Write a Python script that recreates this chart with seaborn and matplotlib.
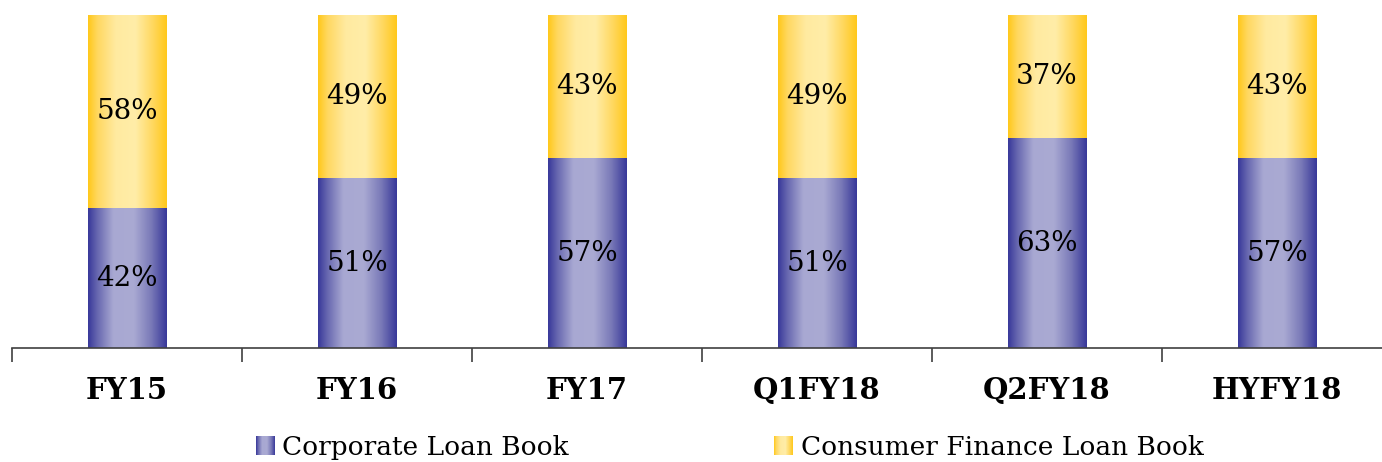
import numpy as np
import pandas as pd
import matplotlib
matplotlib.use("Agg")
import matplotlib.pyplot as plt
import seaborn as sns
from matplotlib.colors import LinearSegmentedColormap
from matplotlib.legend_handler import HandlerBase
from matplotlib.image import BboxImage
from matplotlib.transforms import Bbox, TransformedBbox
from matplotlib.patches import Patch

periods = ["FY15", "FY16", "FY17", "Q1FY18", "Q2FY18", "HYFY18"]
corporate = [42, 51, 57, 51, 63, 57]
consumer = [58, 49, 43, 49, 37, 43]
series_names = ["Corporate Loan Book", "Consumer Finance Loan Book"]

sns.set_theme(style="white")
plt.rcParams["font.family"] = ["DejaVu Serif"]

blue_cmap = LinearSegmentedColormap.from_list(
    "blue_grad",
    [(0.0, "#38389a"), (0.12, "#6868b0"), (0.32, "#a8a8d2"),
     (0.58, "#aaaad3"), (0.8, "#7a7ab8"), (1.0, "#38389a")])
yellow_cmap = LinearSegmentedColormap.from_list(
    "yellow_grad",
    [(0.0, "#ffc81a"), (0.12, "#ffd860"), (0.35, "#ffeaa0"),
     (0.6, "#ffeda8"), (0.82, "#ffd860"), (1.0, "#ffc81a")])
grad = np.linspace(0, 1, 256).reshape(1, -1)

df = pd.DataFrame({"Period": periods, "Corporate": corporate, "Consumer": consumer})
df["Corporate"] = df["Corporate"] / 100
df["Consumer"] = df["Consumer"] / 100

fig = plt.figure(figsize=(13.82, 4.62), dpi=100)
ax = fig.add_axes([12 / 1382, 114 / 462, 1380 / 1382, 333 / 462])

sns.barplot(data=df, x="Period", y="Corporate", order=periods, width=0.34,
            color="#38389a", ax=ax)
sns.barplot(data=df, x="Period", y="Consumer", order=periods, width=0.34,
            bottom=df["Corporate"].values, color="#ffc81a", ax=ax)

n = len(periods)
for i, p in enumerate(ax.patches):
    cmap = blue_cmap if i < n else yellow_cmap
    x0, y0 = p.get_x(), p.get_y()
    w, h = p.get_width(), p.get_height()
    ax.imshow(grad, cmap=cmap, aspect="auto", interpolation="bicubic",
              extent=[x0, x0 + w, y0, y0 + h], zorder=2)
    p.set_alpha(0)
    val = corporate[i] if i < n else consumer[i - n]
    ax.text(x0 + w / 2, y0 + h / 2, f"{val}%", ha="center", va="center",
            fontsize=20, color="black", zorder=3)

ax.set_xlim(-0.5, n - 0.5)
ax.set_ylim(0, 1)
ax.set_xlabel("")
ax.set_ylabel("")
ax.set_yticks([])
for s in ["top", "left", "right"]:
    ax.spines[s].set_visible(False)
ax.spines["bottom"].set_color("#404040")
ax.spines["bottom"].set_linewidth(1.2)
ax.set_xticks(range(n))
ax.set_xticklabels(periods, fontsize=21, fontweight="bold", color="black")
ax.set_xticks(np.arange(-0.5, n, 1), minor=True)
ax.tick_params(axis="x", which="major", length=0, pad=20)
ax.tick_params(axis="x", which="minor", length=10, width=1.2, color="#404040",
               bottom=True)


class GradHandler(HandlerBase):
    def __init__(self, cmap):
        super().__init__()
        self.cmap = cmap

    def create_artists(self, legend, orig_handle, xdescent, ydescent,
                       width, height, fontsize, trans):
        side = min(width, height) * 1.0
        bb = Bbox.from_bounds(-xdescent + width - side, -ydescent + (height - side) / 2,
                              side, side)
        img = BboxImage(TransformedBbox(bb, trans), cmap=self.cmap,
                        interpolation="bicubic")
        img.set_data(grad)
        return [img]


h1 = Patch(facecolor="#38389a")
h2 = Patch(facecolor="#ffc81a")
leg = fig.legend([h1, h2], series_names, loc="lower center",
                 bbox_to_anchor=(0.526, -0.046), ncol=2, frameon=False,
                 fontsize=19, handlelength=0.9, handletextpad=0.3,
                 columnspacing=7.6, labelcolor="black",
                 handler_map={h1: GradHandler(blue_cmap), h2: GradHandler(yellow_cmap)})

fig.savefig("out.png", dpi=100)
